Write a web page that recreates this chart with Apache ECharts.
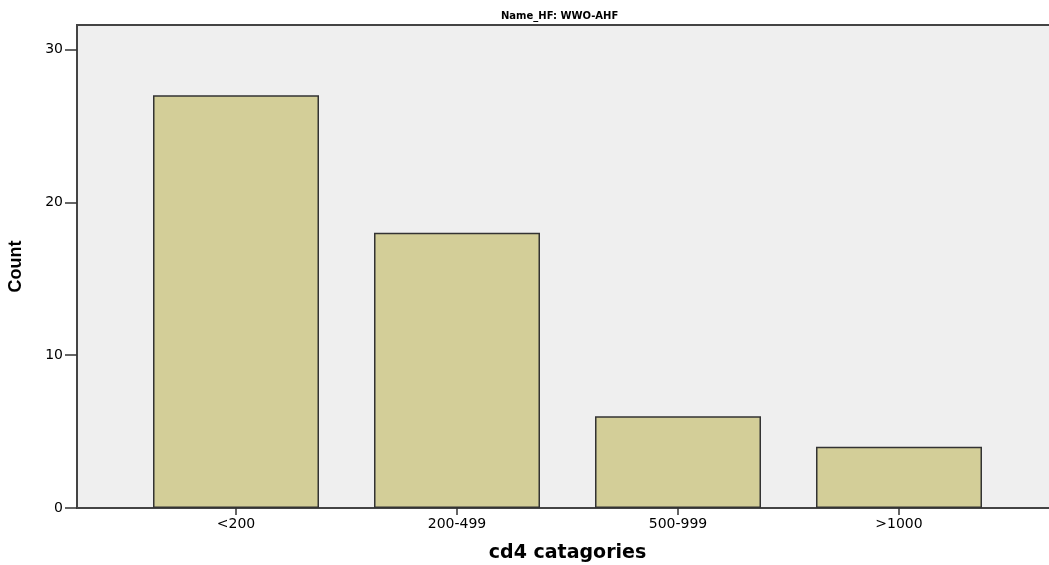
<!DOCTYPE html>
<html>
<head>
<meta charset="utf-8">
<script src="https://cdn.jsdelivr.net/npm/echarts@6/dist/echarts.min.js"></script>
<style>
  html, body { margin: 0; padding: 0; background: #fff; }
  #chart { width: 1049px; height: 565px; }
</style>
</head>
<body>
<div id="chart"></div>
<script>
// data
const categories = ['<200', '200-499', '500-999', '>1000']
const counts = [27, 18, 6, 4]
const yTicks = [0, 10, 20, 30]

const yMax = 31.6
const wideFont = 'DejaVu Sans, Verdana, sans-serif'
const myChart = echarts.init(document.getElementById('chart'))

myChart.setOption({
  animation: false,
  title: {
    text: 'Name_HF: WWO-AHF',
    left: 496,
    top: 6,
    textStyle: { fontFamily: wideFont, fontSize: 10, fontWeight: 'bold', color: '#000' }
  },
  grid: [
    // frame + grey background, runs off the right edge
    {
      left: 77, top: 25, right: -10, bottom: 57,
      outerBoundsMode: 'none',
      show: true, backgroundColor: '#efefef', borderColor: '#444', borderWidth: 2
    },
    // inner grid for the bars
    { left: 125.5, top: 25, right: 39.5, bottom: 57, outerBoundsMode: 'none' }
  ],
  xAxis: [
    { gridIndex: 0, type: 'value', show: false, min: 0, max: 1 },
    {
      gridIndex: 1,
      type: 'category',
      data: categories,
      name: 'cd4 catagories',
      nameLocation: 'middle',
      nameGap: 36,
      nameTextStyle: { fontFamily: wideFont, fontSize: 19, fontWeight: 'bold', color: '#000' },
      axisLine: { show: false },
      axisTick: { show: true, alignWithLabel: true, length: 7, lineStyle: { color: '#333', width: 1.5 } },
      axisLabel: { color: '#000', fontSize: 14, margin: 9, fontFamily: wideFont }
    }
  ],
  yAxis: [
    {
      gridIndex: 0,
      type: 'value',
      min: 0,
      max: yMax,
      interval: 10,
      name: 'Count',
      nameLocation: 'middle',
      nameGap: 52,
      nameRotate: 90,
      nameTextStyle: { fontFamily: 'Liberation Sans Narrow, Arial Narrow, sans-serif', fontSize: 18, fontWeight: 'bold', color: '#000' },
      axisLine: { show: true, lineStyle: { color: '#444', width: 2 } },
      axisTick: { show: true, length: 12, customValues: yTicks, lineStyle: { color: '#333', width: 1.5 } },
      axisLabel: { color: '#000', fontSize: 14, margin: 14, customValues: yTicks, fontFamily: wideFont },
      splitLine: { show: false }
    },
    { gridIndex: 1, type: 'value', min: 0, max: yMax, show: false, splitLine: { show: false } }
  ],
  series: [{
    type: 'bar',
    xAxisIndex: 1,
    yAxisIndex: 1,
    barWidth: 166,
    data: counts,
    itemStyle: { color: '#d3ce98', borderColor: '#333', borderWidth: 1.5 }
  }]
})
</script>
</body>
</html>
